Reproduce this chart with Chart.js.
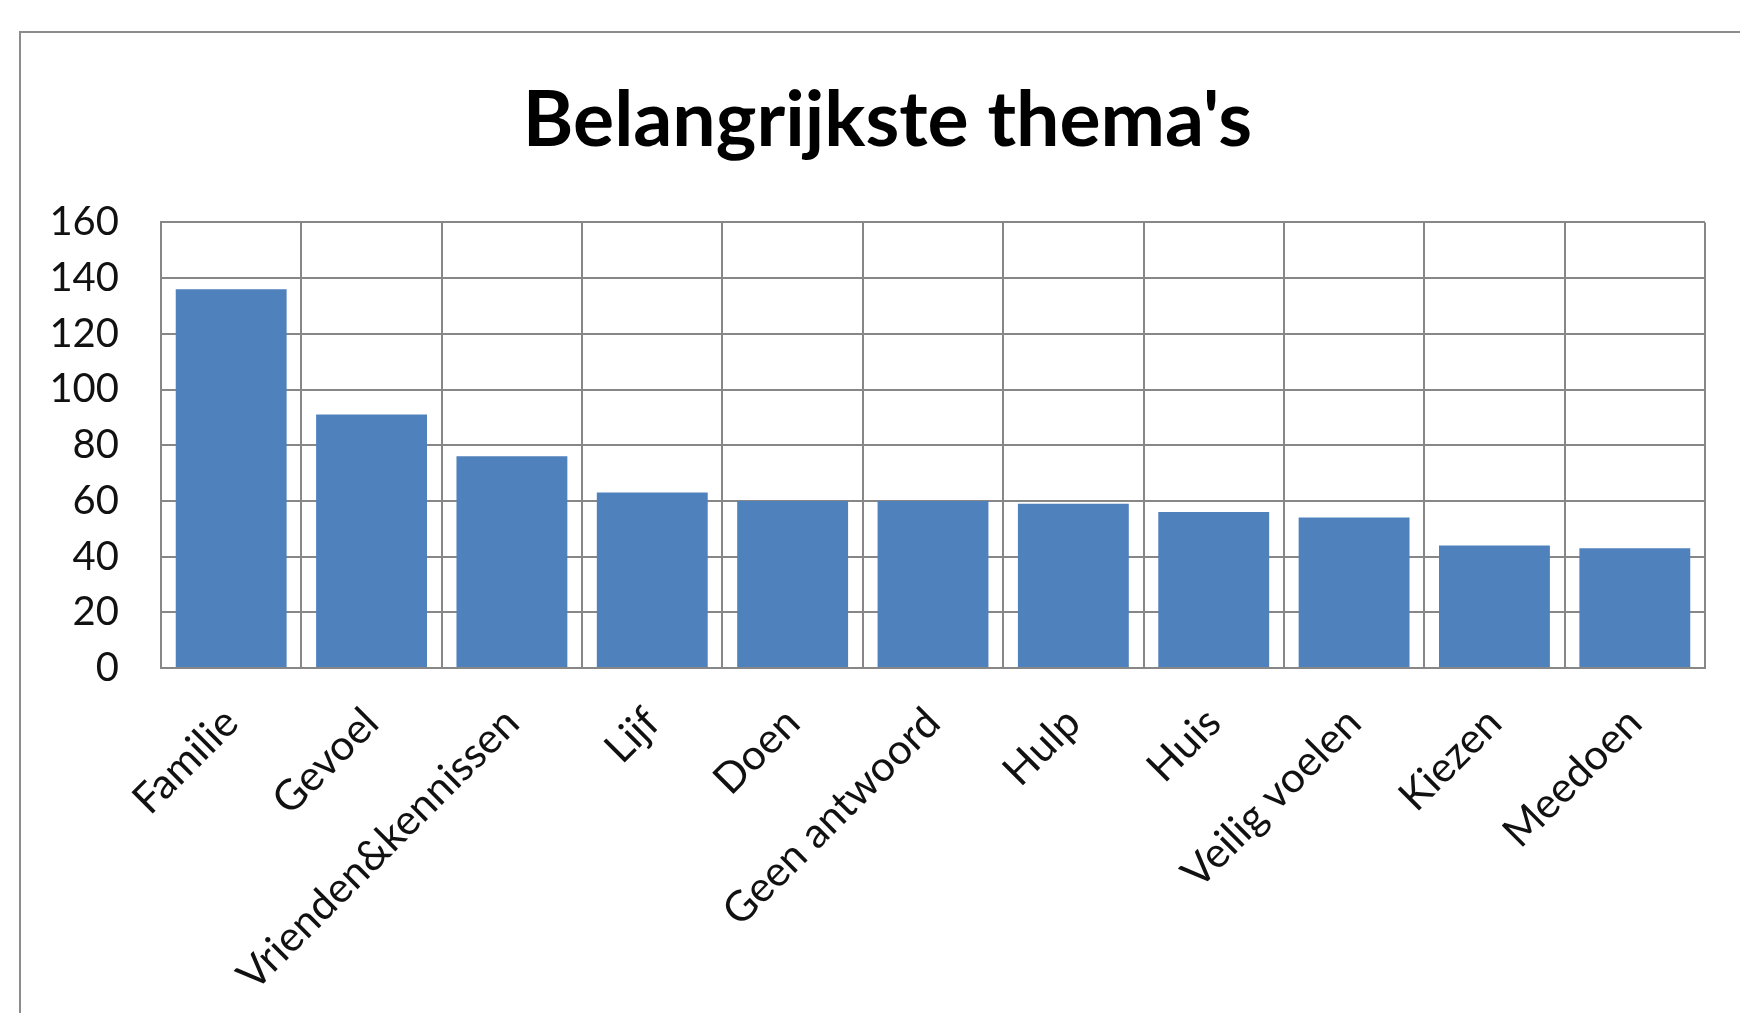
<!DOCTYPE html>
<html>
<head>
<meta charset="utf-8">
<script src="https://cdn.jsdelivr.net/npm/chart.js@4"></script>
<style>
  html, body { margin: 0; padding: 0; background: #ffffff; overflow: hidden; }
  #frame { position: absolute; left: 19px; top: 31px; width: 1800px; height: 1100px; border: 2px solid #8c8c8c; box-sizing: border-box; }
  #wrap { position: absolute; left: 0; top: 0; width: 1740px; height: 1013px; }
</style>
</head>
<body>
<div id="frame"></div>
<div id="wrap"><canvas id="c" width="1740" height="1013"></canvas></div>
<script>
const title = "Belangrijkste thema's";
const categories = ["Familie", "Gevoel", "Vrienden&kennissen", "Lijf", "Doen", "Geen antwoord", "Hulp", "Huis", "Veilig voelen", "Kiezen", "Meedoen"];
const values = [136, 91, 76, 63, 60, 60, 59, 56, 54, 44, 43];
const yTicks = [0, 20, 40, 60, 80, 100, 120, 140, 160];

const FONT = "Lato, 'Liberation Sans', sans-serif";

// shift the title's horizontal span so it is centred like the original
const titleShift = {
  id: 'titleShift',
  afterLayout(chart) {
    if (chart.titleBlock) { chart.titleBlock.left = 70; }
  }
};

new Chart(document.getElementById('c'), {
  type: 'bar',
  data: {
    labels: categories,
    datasets: [{
      data: values,
      backgroundColor: '#4f81bd',
      borderWidth: 0,
      categoryPercentage: 1.0,
      barPercentage: 0.79
    }]
  },
  plugins: [titleShift],
  options: {
    responsive: false,
    animation: false,
    layout: { padding: { left: 0, right: 35, top: 0, bottom: 0 } },
    plugins: {
      legend: { display: false },
      tooltip: { enabled: false },
      title: {
        display: true,
        text: title,
        color: '#000000',
        font: { family: FONT, size: 77, weight: 'bold', lineHeight: 1.2 },
        padding: { top: 75, bottom: 55 }
      }
    },
    scales: {
      x: {
        grid: { color: '#878787', lineWidth: 2, drawTicks: false, offset: true },
        border: { color: '#878787', width: 2 },
        ticks: {
          color: '#111111',
          font: { family: FONT, size: 42 },
          minRotation: 45, maxRotation: 45,
          padding: 30,
          autoSkip: false
        },
        afterFit: (s) => { s.height = 345; }
      },
      y: {
        min: yTicks[0],
        max: yTicks[yTicks.length - 1],
        grid: { color: '#878787', lineWidth: 2, drawTicks: false },
        border: { color: '#878787', width: 2 },
        afterBuildTicks: (s) => { s.ticks = yTicks.map(v => ({ value: v })); },
        ticks: {
          color: '#111111',
          font: { family: FONT, size: 40 },
          padding: 42
        },
        afterFit: (s) => { s.width = 161; }
      }
    }
  }
});
</script>
</body>
</html>
